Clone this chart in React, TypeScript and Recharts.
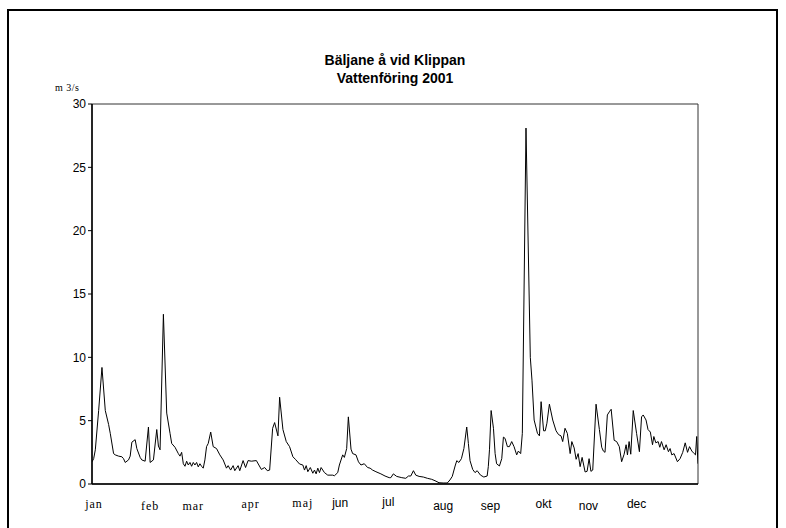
import React from 'react';
import { LineChart, Line, XAxis, YAxis, ReferenceArea } from 'recharts';

const days = [
  0, 1, 2, 4, 6, 8, 10, 11, 13, 14, 16, 18, 19, 20, 22, 23, 24, 26, 27, 29, 30, 32, 34, 35, 37, 39, 40, 41, 43, 45, 47, 48, 50, 52, 53, 54, 55,
  56, 57, 58, 59, 60, 61, 62, 63, 64, 65, 66, 67, 68, 69, 70, 71.5, 73, 75, 77, 79, 81, 82, 83.5, 85, 86, 88, 89, 91, 92.5, 94, 96, 99,
  100.5, 102, 104, 105.6, 107, 108.8, 110, 112, 113, 115, 117, 119, 121, 122.5, 125, 127, 128, 129, 130, 131.5, 133, 134, 135, 136, 137,
  138, 140, 142, 145, 146, 148, 149, 151, 152, 153.4, 154.4, 156, 157, 159, 160.5, 162, 164, 166, 167.5, 169, 171, 174, 176.5, 179, 180,
  181.5, 183.5, 186.6, 189, 190.6, 192, 193.6, 195, 197, 199.6, 202, 204.6, 206.6, 209, 211.5, 214, 215.6, 217, 218.7, 219.7, 221, 222.5,
  224, 225.7, 226.7, 227.7, 229.3, 230.7, 232, 234, 236, 238, 238.7, 239.4, 240.4, 241.8, 242.8, 243.7, 245.4, 246.8, 247.8, 248.8, 250.2,
  251.4, 252.8, 254.2, 255.8, 256.8, 258.2, 259.2, 261.4, 264, 265, 266.3, 268.3, 269.5, 270.5, 272, 273, 274, 275.5, 277.5, 279.5, 281,
  282.5, 283.5, 284.9, 286.3, 288, 289, 290.4, 291.6, 292.8, 294, 295.2, 297, 298.2, 299.4, 300.5, 301.6, 303.6, 305.6, 307, 308, 309,
  310.4, 311.6, 312.7, 314.5, 316, 317.6, 319, 320.5, 321.7, 322.5, 323.5, 324.5, 326, 328, 329.7, 331, 332, 333.7, 334.9, 336.3, 337.6,
  338.4, 339.6, 341, 342, 343, 344.6, 345.8, 347.2, 348.2, 349.2, 350.6, 352.6, 354.2, 355.8, 357.3, 358.7, 359.9, 361.3, 362.7, 363.5,
  364.2, 365,
];

const flows = [
  1.75, 2.0, 2.7, 5.8, 9.2, 5.8, 4.7, 4.0, 2.4, 2.3, 2.2, 2.15, 2.0, 1.7, 1.9, 2.2, 3.3, 3.5, 2.8, 2.1, 1.9, 1.8, 4.5, 1.7, 1.9, 4.3, 3.0, 2.7, 13.4, 5.6, 4.0, 3.2, 2.9, 2.4, 2.2, 2.5, 1.6,
  1.4, 1.8, 1.5, 1.7, 1.4, 1.7, 1.5, 1.7, 1.35, 1.6, 1.4, 1.25, 1.9, 2.95, 3.2, 4.1, 2.95, 2.8, 2.3, 1.9, 1.25, 1.45, 1.1, 1.45, 1.05, 1.45, 1.05, 1.85, 1.3, 1.85, 1.8, 1.85,
  1.5, 1.15, 1.3, 1.05, 1.1, 4.4, 4.85, 3.8, 6.85, 4.3, 3.35, 2.95, 2.15, 1.95, 1.58, 1.5, 1.1, 1.45, 0.97, 1.3, 0.85, 1.1, 0.8, 1.25, 0.9,
  1.3, 0.9, 0.7, 0.7, 0.65, 0.9, 1.5, 2.3, 2.1, 2.8, 5.3, 2.75, 2.4, 2.3, 1.75, 1.5, 1.6, 1.3, 1.25, 1.1, 0.97, 0.8, 0.63, 0.5, 0.5,
  0.8, 0.6, 0.5, 0.45, 0.63, 0.63, 1.05, 0.7, 0.6, 0.55, 0.45, 0.37, 0.26, 0.1, 0.08, 0.08, 0.32, 0.6, 1.42, 1.84, 1.7, 2.0,
  2.8, 4.5, 3.2, 1.84, 1.15, 0.9, 1.05, 0.7, 0.55, 0.63, 1.37, 2.7, 5.8, 4.4, 2.4, 1.6, 1.42, 2.0, 3.7, 3.6, 2.95,
  2.95, 3.35, 2.95, 2.3, 2.6, 2.4, 4.0, 28.1, 10.0, 8.2, 5.05, 4.0, 3.8, 6.5, 4.2, 4.2, 4.8, 6.3, 5.05, 4.2, 3.9,
  3.8, 3.35, 4.4, 4.0, 2.4, 3.35, 2.85, 1.95, 2.4, 1.37, 2.1, 0.95, 1.0, 2.0, 1.0, 1.1, 6.3, 4.3, 2.9, 2.6, 2.5,
  5.45, 5.7, 5.9, 3.45, 3.35, 2.95, 1.76, 2.35, 3.1, 2.3, 3.35, 2.35, 5.8, 4.0, 2.55, 5.3, 5.45, 5.05, 4.3, 4.1, 3.1,
  3.75, 3.25, 3.35, 2.9, 3.35, 2.7, 3.1, 2.55, 2.8, 2.3, 2.4, 1.76, 2.0, 2.5, 3.25, 2.5, 2.95, 2.6, 2.4, 2.3,
  3.75, 1.6,
];

const monthLabels = ['jan', 'feb', 'mar', 'apr', 'maj', 'jun', 'jul', 'aug', 'sep', 'okt', 'nov', 'dec'];
const monthLabelDays = [1.2, 35, 61, 95.5, 127, 149.5, 178.5, 211.5, 240, 272, 299, 328];
const yTicks = [0, 5, 10, 15, 20, 25, 30];

const titleLines = ['Bäljane å vid Klippan', 'Vattenföring 2001'];
const unitLabel = 'm 3/s';

const data = days.map((d, i) => ({ day: d, flow: flows[i] }));

const MonthTick = (props: any) => {
  const { x, y, payload } = props;
  const idx = monthLabelDays.indexOf(payload.value);
  const label = monthLabels[idx] ?? '';
  const serif = idx <= 4;
  const dyList = [16, 18, 18, 16, 15, 15, 14, 18, 18, 16, 18, 16];
  return (
    <text
      x={x}
      y={y + (dyList[idx] ?? 16)}
      textAnchor="middle"
      fill="#000"
      fontFamily={serif ? '"Liberation Serif", serif' : '"Liberation Sans", Arial, sans-serif'}
      fontSize={12}
      fontWeight={serif ? 300 : 400}
      letterSpacing={serif ? 1 : 0}
    >
      {label}
    </text>
  );
};

export default function App() {
  return (
    <div style={{ position: 'absolute', left: 0, top: 0, width: 786, height: 528, background: '#fff', overflow: 'hidden' }}>
      <div
        style={{
          position: 'absolute',
          left: 7,
          top: 9,
          width: 771,
          height: 540,
          border: '2px solid #000',
          boxSizing: 'border-box',
        }}
      />
      <div
        style={{
          position: 'absolute',
          left: 195,
          top: 51,
          width: 400,
          textAlign: 'center',
          fontFamily: '"Liberation Sans", Arial, sans-serif',
          fontWeight: 'bold',
          fontSize: 14,
          lineHeight: '18px',
          color: '#000',
        }}
      >
        <div>{titleLines[0]}</div>
        <div>{titleLines[1]}</div>
      </div>
      <div
        style={{
          position: 'absolute',
          left: 55,
          top: 82,
          fontFamily: '"Liberation Serif", serif',
          fontSize: 10,
          letterSpacing: 0.5,
          color: '#000',
          whiteSpace: 'pre',
        }}
      >
        {unitLabel}
      </div>
      <div style={{ position: 'absolute', left: 0, top: 0 }}>
        <LineChart width={786} height={528} data={data} margin={{ top: 104, right: 88, bottom: 14, left: 62 }}>
          <ReferenceArea x1={0} x2={365} y1={0} y2={30} fill="none" stroke="#333" strokeWidth={1} ifOverflow="visible" />
          <XAxis
            dataKey="day"
            type="number"
            domain={[0, 365]}
            ticks={monthLabelDays}
            interval={0}
            tickLine={false}
            axisLine={{ stroke: '#000', strokeWidth: 1.5 }}
            tick={<MonthTick />}
            height={30}
            allowDataOverflow
          />
          <YAxis
            type="number"
            domain={[0, 30]}
            ticks={yTicks}
            interval={0}
            width={30}
            tickSize={4}
            tickLine={{ stroke: '#000' }}
            axisLine={{ stroke: '#000', strokeWidth: 1.5 }}
            tick={{ fill: '#000', fontSize: 12, fontFamily: '"Liberation Sans", Arial, sans-serif' }}
            allowDataOverflow
          />
          <Line
            type="linear"
            dataKey="flow"
            stroke="#000"
            strokeWidth={1}
            dot={false}
            activeDot={false}
            isAnimationActive={false}
          />
        </LineChart>
      </div>
    </div>
  );
}
